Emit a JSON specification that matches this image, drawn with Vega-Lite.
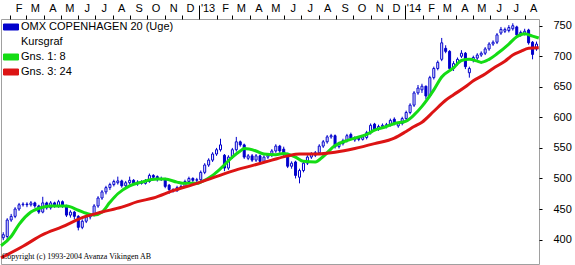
{
  "$schema": "https://vega.github.io/schema/vega-lite/v6.json",
  "width": 538,
  "height": 245,
  "autosize": "none",
  "padding": {"left": 1, "top": 19, "right": 36, "bottom": 1},
  "background": "white",
  "config": {"view": {"stroke": "#a0a0a0", "strokeWidth": 1}, "font": "Liberation Sans"},
  "title": {"text": "Copyright (c) 1993-2004 Avanza Vikingen AB", "orient": "bottom", "anchor": "start", "frame": "group", "offset": -5, "baseline": "alphabetic", "font": "Liberation Serif", "fontSize": 8, "fontWeight": "normal", "color": "#000000", "dx": 1},
  "datasets": {
    "candles": [
      {"d":"2012-01-20","o":403,"h":412,"l":399,"c":408},
      {"d":"2012-01-27","o":405,"h":435,"l":398,"c":432},
      {"d":"2012-02-03","o":432,"h":442,"l":429,"c":438},
      {"d":"2012-02-10","o":438,"h":453,"l":435,"c":450},
      {"d":"2012-02-17","o":450,"h":460,"l":447,"c":457},
      {"d":"2012-02-24","o":457,"h":461,"l":454,"c":458},
      {"d":"2012-03-02","o":458,"h":461,"l":453,"c":457},
      {"d":"2012-03-09","o":457,"h":463,"l":454,"c":460},
      {"d":"2012-03-16","o":460,"h":462,"l":452,"c":455},
      {"d":"2012-03-23","o":455,"h":457,"l":442,"c":445},
      {"d":"2012-03-30","o":445,"h":470,"l":443,"c":460},
      {"d":"2012-04-06","o":460,"h":462,"l":449,"c":452},
      {"d":"2012-04-13","o":452,"h":463,"l":449,"c":460},
      {"d":"2012-04-20","o":460,"h":462,"l":452,"c":455},
      {"d":"2012-04-27","o":455,"h":465,"l":452,"c":462},
      {"d":"2012-05-04","o":462,"h":464,"l":452,"c":455},
      {"d":"2012-05-11","o":455,"h":457,"l":437,"c":440},
      {"d":"2012-05-18","o":440,"h":448,"l":436,"c":445},
      {"d":"2012-05-25","o":445,"h":447,"l":433,"c":438},
      {"d":"2012-06-01","o":438,"h":440,"l":415,"c":420},
      {"d":"2012-06-08","o":420,"h":433,"l":417,"c":430},
      {"d":"2012-06-15","o":430,"h":440,"l":427,"c":437},
      {"d":"2012-06-22","o":437,"h":443,"l":433,"c":440},
      {"d":"2012-06-29","o":440,"h":458,"l":438,"c":455},
      {"d":"2012-07-06","o":455,"h":471,"l":452,"c":468},
      {"d":"2012-07-13","o":468,"h":481,"l":465,"c":478},
      {"d":"2012-07-20","o":478,"h":488,"l":474,"c":485},
      {"d":"2012-07-27","o":485,"h":493,"l":481,"c":490},
      {"d":"2012-08-03","o":490,"h":498,"l":487,"c":495},
      {"d":"2012-08-10","o":493,"h":503,"l":490,"c":496},
      {"d":"2012-08-17","o":496,"h":498,"l":485,"c":488},
      {"d":"2012-08-24","o":488,"h":496,"l":485,"c":493},
      {"d":"2012-08-31","o":493,"h":503,"l":490,"c":497},
      {"d":"2012-09-07","o":497,"h":499,"l":489,"c":492},
      {"d":"2012-09-14","o":491,"h":497,"l":488,"c":494},
      {"d":"2012-09-21","o":494,"h":497,"l":490,"c":492},
      {"d":"2012-09-28","o":492,"h":499,"l":490,"c":496},
      {"d":"2012-10-05","o":495,"h":508,"l":493,"c":505},
      {"d":"2012-10-12","o":505,"h":507,"l":499,"c":502},
      {"d":"2012-10-19","o":503,"h":505,"l":495,"c":498},
      {"d":"2012-10-26","o":498,"h":503,"l":496,"c":500},
      {"d":"2012-11-02","o":500,"h":501,"l":484,"c":487},
      {"d":"2012-11-09","o":489,"h":491,"l":475,"c":482},
      {"d":"2012-11-16","o":482,"h":484,"l":477,"c":480},
      {"d":"2012-11-23","o":480,"h":488,"l":478,"c":485},
      {"d":"2012-11-30","o":485,"h":490,"l":483,"c":487},
      {"d":"2012-12-07","o":487,"h":498,"l":485,"c":495},
      {"d":"2012-12-14","o":495,"h":503,"l":493,"c":500},
      {"d":"2012-12-21","o":500,"h":502,"l":494,"c":497},
      {"d":"2012-12-28","o":497,"h":501,"l":494,"c":498},
      {"d":"2013-01-04","o":498,"h":513,"l":496,"c":510},
      {"d":"2013-01-11","o":510,"h":525,"l":507,"c":522},
      {"d":"2013-01-18","o":522,"h":533,"l":519,"c":530},
      {"d":"2013-01-25","o":530,"h":543,"l":527,"c":540},
      {"d":"2013-02-01","o":540,"h":550,"l":537,"c":547},
      {"d":"2013-02-08","o":547,"h":565,"l":544,"c":555},
      {"d":"2013-02-15","o":538,"h":540,"l":512,"c":517},
      {"d":"2013-02-22","o":517,"h":538,"l":514,"c":535},
      {"d":"2013-03-01","o":535,"h":550,"l":532,"c":547},
      {"d":"2013-03-08","o":547,"h":568,"l":544,"c":560},
      {"d":"2013-03-15","o":560,"h":562,"l":552,"c":555},
      {"d":"2013-03-22","o":555,"h":557,"l":532,"c":535},
      {"d":"2013-03-29","o":533,"h":540,"l":530,"c":537},
      {"d":"2013-04-05","o":537,"h":540,"l":527,"c":530},
      {"d":"2013-04-12","o":530,"h":540,"l":527,"c":537},
      {"d":"2013-04-19","o":537,"h":539,"l":525,"c":528},
      {"d":"2013-04-26","o":528,"h":538,"l":525,"c":535},
      {"d":"2013-05-03","o":535,"h":541,"l":532,"c":538},
      {"d":"2013-05-10","o":538,"h":548,"l":535,"c":545},
      {"d":"2013-05-17","o":545,"h":556,"l":542,"c":553},
      {"d":"2013-05-24","o":553,"h":555,"l":542,"c":545},
      {"d":"2013-05-31","o":548,"h":552,"l":537,"c":540},
      {"d":"2013-06-07","o":540,"h":542,"l":517,"c":520},
      {"d":"2013-06-14","o":520,"h":528,"l":516,"c":525},
      {"d":"2013-06-21","o":527,"h":529,"l":500,"c":505},
      {"d":"2013-06-28","o":502,"h":516,"l":492,"c":513},
      {"d":"2013-07-05","o":513,"h":528,"l":510,"c":525},
      {"d":"2013-07-12","o":525,"h":538,"l":522,"c":535},
      {"d":"2013-07-19","o":535,"h":543,"l":532,"c":540},
      {"d":"2013-07-26","o":538,"h":545,"l":535,"c":542},
      {"d":"2013-08-02","o":542,"h":556,"l":539,"c":553},
      {"d":"2013-08-09","o":553,"h":563,"l":550,"c":560},
      {"d":"2013-08-16","o":560,"h":571,"l":557,"c":568},
      {"d":"2013-08-23","o":568,"h":573,"l":565,"c":570},
      {"d":"2013-08-30","o":570,"h":572,"l":549,"c":552},
      {"d":"2013-09-06","o":552,"h":560,"l":549,"c":557},
      {"d":"2013-09-13","o":557,"h":565,"l":554,"c":562},
      {"d":"2013-09-20","o":562,"h":573,"l":559,"c":570},
      {"d":"2013-09-27","o":572,"h":575,"l":563,"c":566},
      {"d":"2013-10-04","o":563,"h":569,"l":560,"c":566},
      {"d":"2013-10-11","o":566,"h":569,"l":561,"c":564},
      {"d":"2013-10-18","o":564,"h":571,"l":562,"c":568},
      {"d":"2013-10-25","o":567,"h":578,"l":564,"c":575},
      {"d":"2013-11-01","o":575,"h":590,"l":572,"c":587},
      {"d":"2013-11-08","o":589,"h":591,"l":578,"c":581},
      {"d":"2013-11-15","o":581,"h":588,"l":578,"c":585},
      {"d":"2013-11-22","o":585,"h":590,"l":582,"c":587},
      {"d":"2013-11-29","o":585,"h":591,"l":582,"c":588},
      {"d":"2013-12-06","o":588,"h":598,"l":585,"c":595},
      {"d":"2013-12-13","o":597,"h":600,"l":587,"c":590},
      {"d":"2013-12-20","o":586,"h":592,"l":583,"c":590},
      {"d":"2013-12-27","o":590,"h":601,"l":587,"c":598},
      {"d":"2014-01-03","o":598,"h":611,"l":595,"c":608},
      {"d":"2014-01-10","o":608,"h":623,"l":605,"c":620},
      {"d":"2014-01-17","o":620,"h":643,"l":617,"c":640},
      {"d":"2014-01-24","o":640,"h":653,"l":637,"c":648},
      {"d":"2014-01-31","o":645,"h":655,"l":640,"c":651},
      {"d":"2014-02-07","o":651,"h":652,"l":630,"c":635},
      {"d":"2014-02-14","o":635,"h":668,"l":633,"c":665},
      {"d":"2014-02-21","o":665,"h":683,"l":662,"c":680},
      {"d":"2014-02-28","o":680,"h":693,"l":677,"c":690},
      {"d":"2014-03-07","o":695,"h":730,"l":692,"c":722},
      {"d":"2014-03-14","o":713,"h":718,"l":705,"c":708},
      {"d":"2014-03-21","o":708,"h":710,"l":676,"c":680},
      {"d":"2014-03-28","o":680,"h":692,"l":676,"c":688},
      {"d":"2014-04-04","o":688,"h":698,"l":685,"c":695},
      {"d":"2014-04-11","o":700,"h":710,"l":697,"c":705},
      {"d":"2014-04-18","o":705,"h":707,"l":679,"c":683},
      {"d":"2014-04-25","o":673,"h":683,"l":665,"c":680},
      {"d":"2014-05-02","o":693,"h":701,"l":690,"c":698},
      {"d":"2014-05-09","o":697,"h":705,"l":694,"c":702},
      {"d":"2014-05-16","o":702,"h":708,"l":699,"c":705},
      {"d":"2014-05-23","o":705,"h":715,"l":702,"c":712},
      {"d":"2014-05-30","o":712,"h":723,"l":709,"c":720},
      {"d":"2014-06-06","o":720,"h":726,"l":717,"c":723},
      {"d":"2014-06-13","o":723,"h":738,"l":720,"c":735},
      {"d":"2014-06-20","o":738,"h":748,"l":735,"c":744},
      {"d":"2014-06-27","o":741,"h":747,"l":738,"c":744},
      {"d":"2014-07-04","o":742,"h":751,"l":739,"c":747},
      {"d":"2014-07-11","o":745,"h":754,"l":742,"c":750},
      {"d":"2014-07-18","o":748,"h":750,"l":732,"c":735},
      {"d":"2014-07-25","o":735,"h":742,"l":732,"c":739},
      {"d":"2014-08-01","o":737,"h":745,"l":734,"c":741},
      {"d":"2014-08-08","o":743,"h":745,"l":719,"c":722},
      {"d":"2014-08-15","o":723,"h":725,"l":695,"c":703},
      {"d":"2014-08-22","o":712,"h":724,"l":709,"c":720}
    ],
    "ma": [
      {"s":"Gns. 1: 8","d":"2012-01-16","v":390},
      {"s":"Gns. 1: 8","d":"2012-02-03","v":405},
      {"s":"Gns. 1: 8","d":"2012-02-17","v":425},
      {"s":"Gns. 1: 8","d":"2012-03-09","v":445},
      {"s":"Gns. 1: 8","d":"2012-03-30","v":453},
      {"s":"Gns. 1: 8","d":"2012-04-13","v":455},
      {"s":"Gns. 1: 8","d":"2012-05-11","v":455},
      {"s":"Gns. 1: 8","d":"2012-06-01","v":448},
      {"s":"Gns. 1: 8","d":"2012-06-15","v":443},
      {"s":"Gns. 1: 8","d":"2012-06-29","v":440},
      {"s":"Gns. 1: 8","d":"2012-07-13","v":445},
      {"s":"Gns. 1: 8","d":"2012-07-27","v":461},
      {"s":"Gns. 1: 8","d":"2012-08-10","v":475},
      {"s":"Gns. 1: 8","d":"2012-08-31","v":488},
      {"s":"Gns. 1: 8","d":"2012-09-21","v":494},
      {"s":"Gns. 1: 8","d":"2012-10-19","v":499},
      {"s":"Gns. 1: 8","d":"2012-11-02","v":499},
      {"s":"Gns. 1: 8","d":"2012-11-23","v":494},
      {"s":"Gns. 1: 8","d":"2012-12-07","v":492},
      {"s":"Gns. 1: 8","d":"2012-12-28","v":492},
      {"s":"Gns. 1: 8","d":"2013-01-04","v":494},
      {"s":"Gns. 1: 8","d":"2013-01-25","v":505},
      {"s":"Gns. 1: 8","d":"2013-02-08","v":516},
      {"s":"Gns. 1: 8","d":"2013-03-01","v":535},
      {"s":"Gns. 1: 8","d":"2013-03-15","v":545},
      {"s":"Gns. 1: 8","d":"2013-03-22","v":549},
      {"s":"Gns. 1: 8","d":"2013-04-12","v":545},
      {"s":"Gns. 1: 8","d":"2013-04-26","v":540},
      {"s":"Gns. 1: 8","d":"2013-05-17","v":539},
      {"s":"Gns. 1: 8","d":"2013-05-31","v":541},
      {"s":"Gns. 1: 8","d":"2013-06-21","v":535},
      {"s":"Gns. 1: 8","d":"2013-07-05","v":528},
      {"s":"Gns. 1: 8","d":"2013-07-26","v":527},
      {"s":"Gns. 1: 8","d":"2013-08-09","v":536},
      {"s":"Gns. 1: 8","d":"2013-08-30","v":554},
      {"s":"Gns. 1: 8","d":"2013-09-20","v":562},
      {"s":"Gns. 1: 8","d":"2013-10-04","v":566},
      {"s":"Gns. 1: 8","d":"2013-10-25","v":572},
      {"s":"Gns. 1: 8","d":"2013-11-08","v":579},
      {"s":"Gns. 1: 8","d":"2013-11-29","v":585},
      {"s":"Gns. 1: 8","d":"2013-12-13","v":590},
      {"s":"Gns. 1: 8","d":"2014-01-03","v":594},
      {"s":"Gns. 1: 8","d":"2014-01-17","v":604},
      {"s":"Gns. 1: 8","d":"2014-01-31","v":618},
      {"s":"Gns. 1: 8","d":"2014-02-21","v":645},
      {"s":"Gns. 1: 8","d":"2014-03-07","v":666},
      {"s":"Gns. 1: 8","d":"2014-03-28","v":681},
      {"s":"Gns. 1: 8","d":"2014-04-11","v":693},
      {"s":"Gns. 1: 8","d":"2014-04-25","v":695},
      {"s":"Gns. 1: 8","d":"2014-05-09","v":692},
      {"s":"Gns. 1: 8","d":"2014-05-16","v":690},
      {"s":"Gns. 1: 8","d":"2014-05-30","v":695},
      {"s":"Gns. 1: 8","d":"2014-06-13","v":704},
      {"s":"Gns. 1: 8","d":"2014-07-04","v":720},
      {"s":"Gns. 1: 8","d":"2014-07-18","v":732},
      {"s":"Gns. 1: 8","d":"2014-08-01","v":737},
      {"s":"Gns. 1: 8","d":"2014-08-15","v":733},
      {"s":"Gns. 1: 8","d":"2014-08-26","v":730},
      {"s":"Gns. 3: 24","d":"2012-01-16","v":370},
      {"s":"Gns. 3: 24","d":"2012-02-24","v":389},
      {"s":"Gns. 3: 24","d":"2012-03-30","v":408},
      {"s":"Gns. 3: 24","d":"2012-05-04","v":421},
      {"s":"Gns. 3: 24","d":"2012-06-08","v":436},
      {"s":"Gns. 3: 24","d":"2012-07-13","v":445},
      {"s":"Gns. 3: 24","d":"2012-08-17","v":453},
      {"s":"Gns. 3: 24","d":"2012-09-14","v":462},
      {"s":"Gns. 3: 24","d":"2012-10-12","v":468},
      {"s":"Gns. 3: 24","d":"2012-11-16","v":480},
      {"s":"Gns. 3: 24","d":"2012-12-21","v":490},
      {"s":"Gns. 3: 24","d":"2013-01-25","v":501},
      {"s":"Gns. 3: 24","d":"2013-03-01","v":512},
      {"s":"Gns. 3: 24","d":"2013-04-05","v":521},
      {"s":"Gns. 3: 24","d":"2013-05-10","v":530},
      {"s":"Gns. 3: 24","d":"2013-06-07","v":537},
      {"s":"Gns. 3: 24","d":"2013-06-28","v":540},
      {"s":"Gns. 3: 24","d":"2013-07-26","v":540},
      {"s":"Gns. 3: 24","d":"2013-08-30","v":543},
      {"s":"Gns. 3: 24","d":"2013-10-04","v":549},
      {"s":"Gns. 3: 24","d":"2013-11-08","v":557},
      {"s":"Gns. 3: 24","d":"2013-12-13","v":566},
      {"s":"Gns. 3: 24","d":"2014-01-03","v":577},
      {"s":"Gns. 3: 24","d":"2014-01-17","v":585},
      {"s":"Gns. 3: 24","d":"2014-01-31","v":592},
      {"s":"Gns. 3: 24","d":"2014-02-21","v":610},
      {"s":"Gns. 3: 24","d":"2014-03-14","v":628},
      {"s":"Gns. 3: 24","d":"2014-03-28","v":637},
      {"s":"Gns. 3: 24","d":"2014-04-18","v":650},
      {"s":"Gns. 3: 24","d":"2014-05-02","v":660},
      {"s":"Gns. 3: 24","d":"2014-05-23","v":671},
      {"s":"Gns. 3: 24","d":"2014-06-06","v":680},
      {"s":"Gns. 3: 24","d":"2014-06-27","v":692},
      {"s":"Gns. 3: 24","d":"2014-07-11","v":702},
      {"s":"Gns. 3: 24","d":"2014-07-25","v":708},
      {"s":"Gns. 3: 24","d":"2014-08-08","v":713},
      {"s":"Gns. 3: 24","d":"2014-08-26","v":714}
    ]
  },
  "encoding": {
    "x": {
      "field": "d", "type": "temporal",
      "scale": {"type": "utc", "nice": false, "padding": 0, "domain": [{"year": 2012, "month": 1, "date": 16, "utc": true}, {"year": 2014, "month": 8, "date": 26, "hours": 10, "utc": true}]},
      "axis": {
        "orient": "top", "title": null, "domain": false, "grid": false,
        "tickCount": {"interval": "month", "step": 1},
        "labelExpr": "utcmonth(datum.value) === 0 ? \"'\" + utcFormat(datum.value, '%y') : substring(utcFormat(datum.value, '%b'), 0, 1)",
        "labelOffset": 8.5, "labelAlign": "center",
        "labelPadding": {"condition": {"test": "utcmonth(datum.value) === 0", "value": -8}, "value": 2},
        "labelFont": "Liberation Sans", "labelFontSize": 11, "labelColor": "#000000",
        "labelOverlap": false, "labelFlush": false, "labelBound": false,
        "tickColor": "#000000", "tickWidth": 1,
        "tickSize": {"condition": {"test": "utcmonth(datum.value) === 0", "value": 14}, "value": 4}
      }
    }
  },
  "layer": [
    {
      "data": {"name": "candles"},
      "mark": {"type": "rule", "color": "#0000cc", "strokeWidth": 1},
      "encoding": {
        "y": {
          "field": "l", "type": "quantitative",
          "scale": {"domain": [360, 761], "nice": false, "zero": false},
          "axis": {
            "orient": "right", "title": null, "domain": false, "grid": false,
            "values": [400, 450, 500, 550, 600, 650, 700, 750],
            "labelOverlap": false, "labelBound": false,
            "tickSize": 3, "tickColor": "#000000", "labelPadding": 11,
            "labelFont": "Liberation Sans", "labelFontSize": 11, "labelColor": "#000000"
          }
        },
        "y2": {"field": "h"}
      }
    },
    {
      "data": {"name": "candles"},
      "mark": {"type": "bar", "width": 2, "stroke": "#0000cc", "strokeWidth": 1},
      "encoding": {
        "y": {
          "field": "o", "type": "quantitative",
          "scale": {"domain": [360, 761], "nice": false, "zero": false},
          "axis": {
            "orient": "right", "title": null, "domain": false, "grid": false,
            "values": [400, 450, 500, 550, 600, 650, 700, 750],
            "labelOverlap": false, "labelBound": false,
            "tickSize": 3, "tickColor": "#000000", "labelPadding": 11,
            "labelFont": "Liberation Sans", "labelFontSize": 11, "labelColor": "#000000"
          }
        },
        "y2": {"field": "c"},
        "fill": {"condition": {"test": "datum.o > datum.c", "value": "#0000cc"}, "value": "#ffffff"}
      }
    },
    {
      "data": {"name": "ma"},
      "mark": {"type": "line", "strokeWidth": 3, "interpolate": "monotone"},
      "encoding": {
        "y": {
          "field": "v", "type": "quantitative",
          "scale": {"domain": [360, 761], "nice": false, "zero": false},
          "axis": {
            "orient": "right", "title": null, "domain": false, "grid": false,
            "values": [400, 450, 500, 550, 600, 650, 700, 750],
            "labelOverlap": false, "labelBound": false,
            "tickSize": 3, "tickColor": "#000000", "labelPadding": 11,
            "labelFont": "Liberation Sans", "labelFontSize": 11, "labelColor": "#000000"
          }
        },
        "color": {
          "field": "s", "type": "nominal",
          "scale": {"domain": ["OMX COPENHAGEN 20 (Uge)", "Kursgraf", "Gns. 1: 8", "Gns. 3: 24"], "range": ["#0000cc", "transparent", "#14dc14", "#dc1414"]},
          "legend": {
            "title": null, "orient": "top-left", "offset": 0, "padding": 0,
            "symbolOffset": 2,
            "symbolType": "M-1,-0.4H1V0.4H-1Z", "symbolSize": 225,
            "symbolStrokeWidth": 1, "symbolStrokeColor": "#000000",
            "labelFont": "Liberation Sans", "labelFontSize": 11, "labelColor": "#000000",
            "labelOffset": 2, "rowPadding": 2,
            "encode": {
              "symbols": {
                "update": {
                  "fill": {"signal": "scale('color', datum.value)"},
                  "stroke": {"signal": "datum.value === 'Kursgraf' ? 'transparent' : '#000000'"},
                  "strokeWidth": {"value": 1},
                  "opacity": {"value": 1}
                }
              }
            }
          }
        }
      }
    }
  ]
}
